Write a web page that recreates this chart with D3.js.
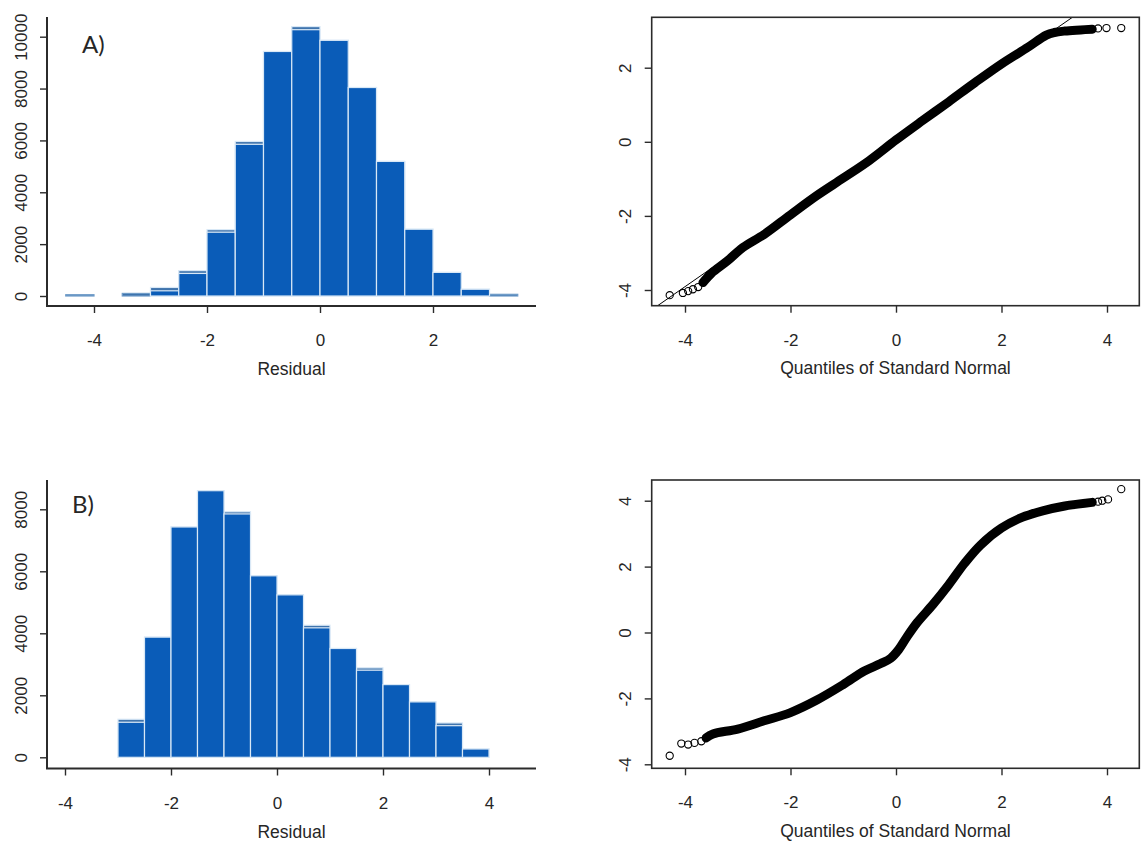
<!DOCTYPE html>
<html>
<head>
<meta charset="utf-8">
<script src="https://cdn.jsdelivr.net/npm/d3@7"></script>
<style>
  html, body { margin: 0; padding: 0; background: #fff; }
  svg text { font-family: "Liberation Sans", Arial, sans-serif; fill: #262626; }
</style>
</head>
<body>
<svg id="chart" width="1147" height="848"></svg>
<script>
// ---------------- DATA ----------------
const binWidth = 0.5;

// Panel A histogram (bin start, counts); "outline" = slightly taller overlaid histogram
const histA_binStarts = [-4.5, -4, -3.5, -3, -2.5, -2, -1.5, -1, -0.5, 0, 0.5, 1, 1.5, 2, 2.5, 3];
const histA_fill      = [50, 0, 100, 200, 870, 2460, 5850, 9430, 10270, 9860, 8040, 5190, 2575, 910, 260, 65];
const histA_outline   = [50, 0, 100, 330, 980, 2560, 5960, 9430, 10390, 9860, 8040, 5190, 2575, 910, 260, 65];

// Panel B histogram
const histB_binStarts = [-3, -2.5, -2, -1.5, -1, -0.5, 0, 0.5, 1, 1.5, 2, 2.5, 3, 3.5];
const histB_fill      = [1130, 3876, 7430, 8600, 7850, 5855, 5240, 4176, 3510, 2810, 2345, 1787, 1020, 268];
const histB_outline   = [1227, 3876, 7430, 8600, 7920, 5855, 5240, 4260, 3510, 2885, 2345, 1787, 1108, 268];

// Histogram tick labels
const histA_xTicks = [-4, -2, 0, 2];
const histA_yTicks = [0, 2000, 4000, 6000, 8000, 10000];
const histB_xTicks = [-4, -2, 0, 2, 4];
const histB_yTicks = [0, 2000, 4000, 6000, 8000];

// Panel A QQ plot: dense band (theoretical, sample) and individual tail points
const qqA_bandTheo   = [-3.66, -3.5, -3.2, -2.9, -2.5, -2.0, -1.5, -1.0, -0.5, 0, 0.5, 1.0, 1.5, 2.0, 2.5, 2.85, 3.0, 3.2, 3.5, 3.72];
const qqA_bandSample = [-3.80, -3.55, -3.22, -2.85, -2.5, -1.97, -1.45, -0.98, -0.5, 0.05, 0.57, 1.08, 1.6, 2.1, 2.55, 2.88, 2.95, 2.99, 3.02, 3.04];
const qqA_tailTheo   = [-4.29, -4.04, -3.94, -3.85, -3.75, 3.83, 3.99, 4.27];
const qqA_tailSample = [-4.14, -4.08, -4.03, -3.98, -3.92, 3.06, 3.07, 3.07];
const qqA_lineIntercept = 0.05;
const qqA_lineSlope = 0.99;
const qqA_xTicks = [-4, -2, 0, 2, 4];
const qqA_yTicks = [-4, -2, 0, 2];

// Panel B QQ plot
const qqB_bandTheo   = [-3.6, -3.47, -3.0, -2.5, -2.0, -1.5, -1.0, -0.6, -0.3, -0.1, 0.05, 0.2, 0.4, 0.7, 1.0, 1.3, 1.6, 2.0, 2.4, 2.8, 3.2, 3.72];
const qqB_bandSample = [-3.2, -3.08, -2.93, -2.68, -2.43, -2.05, -1.58, -1.17, -0.95, -0.78, -0.52, -0.15, 0.3, 0.85, 1.45, 2.1, 2.65, 3.17, 3.5, 3.70, 3.84, 3.95];
const qqB_tailTheo   = [-4.29, -4.07, -3.94, -3.82, -3.69, 3.83, 3.91, 4.02, 4.27];
const qqB_tailSample = [-3.74, -3.37, -3.40, -3.35, -3.30, 3.97, 4.0, 4.04, 4.35];
const qqB_xTicks = [-4, -2, 0, 2, 4];
const qqB_yTicks = [-4, -2, 0, 2, 4];

const panelLabels = ["A)", "B)"];
const histXTitle = "Residual";
const qqXTitle = "Quantiles of Standard Normal";

// ---------------- DRAWING ----------------
const svg = d3.select("#chart");
const AXIS = "#2b2b2b";
const BAR_FILL = "#0a5cb8";
const BAR_STROKE = "#d9e8f6";
const fmt = d => String(d);   // plain hyphen-minus like the original

function styleAxis(g) {
  g.select(".domain").remove();
  g.selectAll(".tick line").attr("stroke", AXIS).attr("stroke-width", 1.4);
  g.selectAll(".tick text").style("font-size", "17px").attr("fill", "#262626");
}

function rotateYLabels(g, offset) {
  g.selectAll(".tick text")
    .attr("x", null).attr("dy", null)
    .attr("text-anchor", "middle")
    .attr("transform", `translate(${-offset},0) rotate(-90)`);
}

function drawHist(cfg) {
  const x = d3.scaleLinear().domain([-4, 4]).range(cfg.xRange);
  const y = d3.scaleLinear().domain([0, cfg.yRefVal]).range(cfg.yRange);
  const g = svg.append("g");

  const rows = cfg.starts.map((s, i) => ({ s, fill: cfg.fill[i], outline: cfg.outline[i] }));
  const tiny = v => (y(0) - y(v)) < 3;
  // back (outline) histogram
  g.append("g").selectAll("rect").data(rows.filter(d => d.outline > 0)).join("rect")
    .attr("x", d => x(d.s))
    .attr("width", d => x(d.s + binWidth) - x(d.s))
    .attr("y", d => y(d.outline))
    .attr("height", d => Math.max(1.2, y(0) - y(d.outline)))
    .attr("fill", "#3f74ad")
    .attr("stroke", d => tiny(d.outline) ? "#6f9cc8" : BAR_STROKE).attr("stroke-width", 1.2);
  // front (filled) histogram
  g.append("g").selectAll("rect").data(rows.filter(d => d.fill > 0 && !tiny(d.fill))).join("rect")
    .attr("x", d => x(d.s))
    .attr("width", d => x(d.s + binWidth) - x(d.s))
    .attr("y", d => y(d.fill))
    .attr("height", d => y(0) - y(d.fill))
    .attr("fill", BAR_FILL)
    .attr("stroke", BAR_STROKE).attr("stroke-width", 1.2);

  // L-shaped axes
  g.append("line").attr("x1", cfg.axisX).attr("x2", cfg.axisX)
    .attr("y1", cfg.axisTop).attr("y2", cfg.axisY)
    .attr("stroke", AXIS).attr("stroke-width", 2);
  g.append("line").attr("x1", cfg.axisX - 1).attr("x2", cfg.axisRight)
    .attr("y1", cfg.axisY).attr("y2", cfg.axisY)
    .attr("stroke", AXIS).attr("stroke-width", 2);

  const xa = g.append("g").attr("transform", `translate(0,${cfg.axisY})`)
    .call(d3.axisBottom(x).tickValues(cfg.xTicks).tickSize(7).tickPadding(21).tickFormat(fmt));
  styleAxis(xa);

  const ya = g.append("g").attr("transform", `translate(${cfg.axisX},0)`)
    .call(d3.axisLeft(y).tickValues(cfg.yTicks).tickSize(7).tickFormat(fmt));
  styleAxis(ya);
  rotateYLabels(ya, 20);

  g.append("text").attr("x", (cfg.axisX + cfg.axisRight) / 2).attr("y", cfg.titleY)
    .attr("text-anchor", "middle").style("font-size", "17.5px").text(histXTitle);

  g.append("text").attr("x", cfg.labelX).attr("y", cfg.labelY)
    .style("font-family", "Lato, 'Open Sans', sans-serif").style("font-size", "24px")
    .attr("fill", "#111").text(cfg.label);
}

function drawQQ(cfg) {
  const x = d3.scaleLinear().domain([-4, 4]).range(cfg.xRange);
  const y = d3.scaleLinear().domain(cfg.yDom).range(cfg.yRange);
  const g = svg.append("g");
  const clipId = "clip" + cfg.id;
  svg.append("clipPath").attr("id", clipId).append("rect")
    .attr("x", cfg.box[0]).attr("y", cfg.box[1])
    .attr("width", cfg.box[2] - cfg.box[0]).attr("height", cfg.box[3] - cfg.box[1]);
  const inner = g.append("g").attr("clip-path", `url(#${clipId})`);

  if (cfg.lineSlope !== undefined) {
    const xs = [-6, 6];
    inner.append("line")
      .attr("x1", x(xs[0])).attr("y1", y(cfg.lineIntercept + cfg.lineSlope * xs[0]))
      .attr("x2", x(xs[1])).attr("y2", y(cfg.lineIntercept + cfg.lineSlope * xs[1]))
      .attr("stroke", "#000").attr("stroke-width", 1);
  }

  const band = cfg.bandTheo.map((t, i) => [t, cfg.bandSample[i]]);
  const line = d3.line().x(d => x(d[0])).y(d => y(d[1])).curve(d3.curveCatmullRom.alpha(0.5));
  inner.append("path").attr("d", line(band))
    .attr("fill", "none").attr("stroke", "#000").attr("stroke-width", 9)
    .attr("stroke-linecap", "round").attr("stroke-linejoin", "round");

  const tails = cfg.tailTheo.map((t, i) => [t, cfg.tailSample[i]]);
  inner.selectAll("circle.tail").data(tails).join("circle")
    .attr("cx", d => x(d[0])).attr("cy", d => y(d[1])).attr("r", 3.6)
    .attr("fill", "none").attr("stroke", "#000").attr("stroke-width", 1.1);

  g.append("rect").attr("x", cfg.box[0]).attr("y", cfg.box[1])
    .attr("width", cfg.box[2] - cfg.box[0]).attr("height", cfg.box[3] - cfg.box[1])
    .attr("fill", "none").attr("stroke", AXIS).attr("stroke-width", 1.6);

  const xa = g.append("g").attr("transform", `translate(0,${cfg.box[3]})`)
    .call(d3.axisBottom(x).tickValues(cfg.xTicks).tickSize(7).tickPadding(21).tickFormat(fmt));
  styleAxis(xa);
  const ya = g.append("g").attr("transform", `translate(${cfg.box[0]},0)`)
    .call(d3.axisLeft(y).tickValues(cfg.yTicks).tickSize(7).tickFormat(fmt));
  styleAxis(ya);
  rotateYLabels(ya, 21);

  g.append("text").attr("x", (cfg.box[0] + cfg.box[2]) / 2).attr("y", cfg.titleY)
    .attr("text-anchor", "middle").style("font-size", "17.5px").text(qqXTitle);
}

drawHist({
  starts: histA_binStarts, fill: histA_fill, outline: histA_outline,
  xRange: [94, 546], yRefVal: 10000, yRange: [296, 36.7],
  axisX: 47, axisTop: 17, axisY: 306, axisRight: 536,
  xTicks: histA_xTicks, yTicks: histA_yTicks,
  titleY: 375, label: panelLabels[0], labelX: 82, labelY: 53
});
drawHist({
  starts: histB_binStarts, fill: histB_fill, outline: histB_outline,
  xRange: [65, 489], yRefVal: 8000, yRange: [757.3, 509.3],
  axisX: 47, axisTop: 480, axisY: 768.5, axisRight: 536,
  xTicks: histB_xTicks, yTicks: histB_yTicks,
  titleY: 838, label: panelLabels[1], labelX: 72, labelY: 513
});
drawQQ({
  id: "A", xRange: [685, 1107], yDom: [-4, 2], yRange: [290, 67.7],
  box: [651.7, 17.3, 1139.3, 305.7],
  bandTheo: qqA_bandTheo, bandSample: qqA_bandSample,
  tailTheo: qqA_tailTheo, tailSample: qqA_tailSample,
  lineIntercept: qqA_lineIntercept, lineSlope: qqA_lineSlope,
  xTicks: qqA_xTicks, yTicks: qqA_yTicks, titleY: 374
});
drawQQ({
  id: "B", xRange: [685, 1107], yDom: [-4, 4], yRange: [764.3, 500.7],
  box: [651.7, 480, 1139.3, 768.3],
  bandTheo: qqB_bandTheo, bandSample: qqB_bandSample,
  tailTheo: qqB_tailTheo, tailSample: qqB_tailSample,
  xTicks: qqB_xTicks, yTicks: qqB_yTicks, titleY: 837
});
</script>
</body>
</html>
